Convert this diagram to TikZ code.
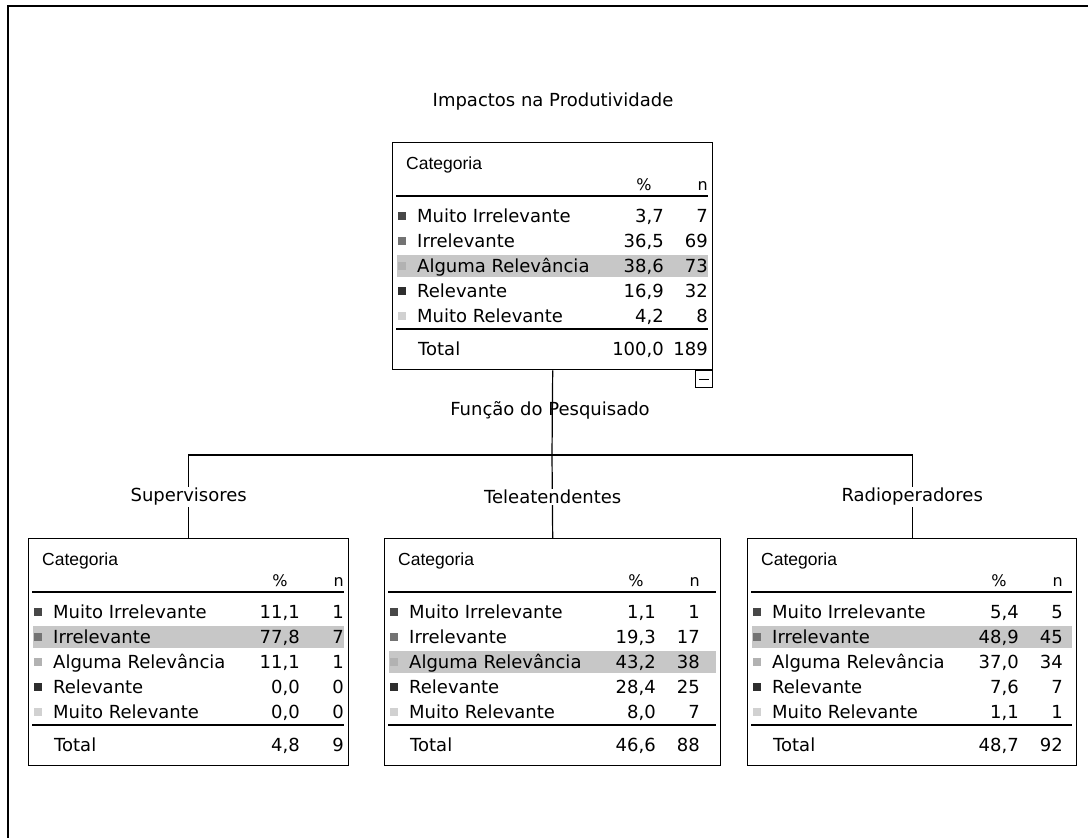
\documentclass[tikz,border=0pt]{standalone}
\usepackage{fontspec}
\setmainfont{DejaVu Sans}
\newfontfamily\catfont{Liberation Sans}
\usetikzlibrary{calc}

% decimal comma that survives \foreach lists
\newcommand\vg{,}

\tikzset{
  moldura/.style={draw=black, line width=1.6pt},
  tabela/.style={draw=black, line width=1.4pt, minimum height=227pt,
    anchor=north west, inner sep=0pt},
  fina/.style={draw=black, line width=1.1pt},
  con/.style={draw=black, line width=1.2pt},
  destaque/.style={fill=black!22},
  txt/.style={inner sep=0pt, font=\fontsize{18}{20}\selectfont},
  cab/.style={inner sep=0pt, font=\fontsize{16}{18}\selectfont},
  catf/.style={inner sep=0pt, font=\catfont\fontsize{17.5}{19}\selectfont},
  tit/.style={inner sep=1.5pt, font=\fontsize{18}{20}\selectfont},
}

% #1 name, #2 left, #3 top, #4 width, #5 highlighted row,
% #6 pct/n pairs, #7 total pct, #8 total n
\newcommand\quadro[8]{%
\begin{scope}[shift={(#2,#3)}]
  \fill[destaque] (5,{74+25*(#5-1)-11}) rectangle ({#4-4},{74+25*(#5-1)+11});
  \node[tabela, minimum width=#4pt] (#1) at (0,0) {};
  \node[catf, anchor=base west] (#1-cat) at (14,27) {Categoria};
  \node[cab, anchor=base] (#1-pc) at (252,48) {\%};
  \node[cab, anchor=base east] (#1-n) at (316,48) {n};
  \draw[fina] (4,54) -- ({#4-4},54);
  \foreach \lab/\cor [count=\i] in {Muito Irrelevante/black!72,
      Irrelevante/black!55, Alguma Relevância/black!30,
      Relevante/black!82, Muito Relevante/black!18}{
    \fill[\cor] (5.5,{74+25*(\i-1)-4.5}) rectangle (13.5,{74+25*(\i-1)+3.5});
    \node[txt, anchor=base west] (#1-r\i) at (25,{74+25*(\i-1)+6.5}) {\lab};
  }
  \foreach \p/\q [count=\i] in {#6}{
    \node[txt, anchor=base east] (#1-p\i) at (272,{74+25*(\i-1)+6.5}) {\p};
    \node[txt, anchor=base east] (#1-q\i) at (316,{74+25*(\i-1)+6.5}) {\q};
  }
  \draw[fina] (4,187) -- ({#4-4},187);
  \node[txt, anchor=base west] (#1-tot) at (26,213.5) {Total};
  \node[txt, anchor=base east] (#1-tp) at (272,213.5) {#7};
  \node[txt, anchor=base east] (#1-tn) at (316,213.5) {#8};
\end{scope}}

\begin{document}
\begin{tikzpicture}[x=1pt, y=-1pt]
\useasboundingbox (0,0) rectangle (1088,838);
\fill[white] (0,0) rectangle (1088,838);

% page frame (top and left edges)
\draw[moldura] (8,838) -- (8,6) -- (1088,6);

\node[tit] (titulo) at (553,102) {Impactos na Produtividade};

\quadro{raiz}{392}{142}{320}{3}{3\vg7/7, 36\vg5/69, 38\vg6/73, 16\vg9/32, 4\vg2/8}{100\vg0}{189}

% collapse button
\node[draw=black, line width=1pt, minimum size=17pt, inner sep=0pt,
  anchor=north east] (menos) at (raiz.south east) {};
\draw[line width=1pt] ($(menos.center)+(-5,0)$) -- ($(menos.center)+(5,0)$);

\quadro{sup}{28}{538}{320}{2}{11\vg1/1, 77\vg8/7, 11\vg1/1, 0\vg0/0, 0\vg0/0}{4\vg8}{9}
\quadro{tel}{384}{538}{336}{3}{1\vg1/1, 19\vg3/17, 43\vg2/38, 28\vg4/25, 8\vg0/7}{46\vg6}{88}
\quadro{rad}{747}{538}{329}{2}{5\vg4/5, 48\vg9/45, 37\vg0/34, 7\vg6/7, 1\vg1/1}{48\vg7}{92}

% tree connectors
\coordinate (ramo) at (552,455);
\coordinate (nivel) at (0,497);
\draw[con] (raiz.south) -- (ramo);
\draw[con] (sup.north) |- (ramo) -| (rad.north);
\draw[con] (ramo) -- (tel.north);

\node[tit] (funcao) at (550,410) {Função do Pesquisado};
\node[tit, fill=white] (lsup) at (sup.north |- nivel) {Supervisores};
\node[tit, fill=white] (ltel) at (tel.north |- nivel) {Teleatendentes};
\node[tit, fill=white] (lrad) at (rad.north |- nivel) {Radioperadores};
\end{tikzpicture}
\end{document}
